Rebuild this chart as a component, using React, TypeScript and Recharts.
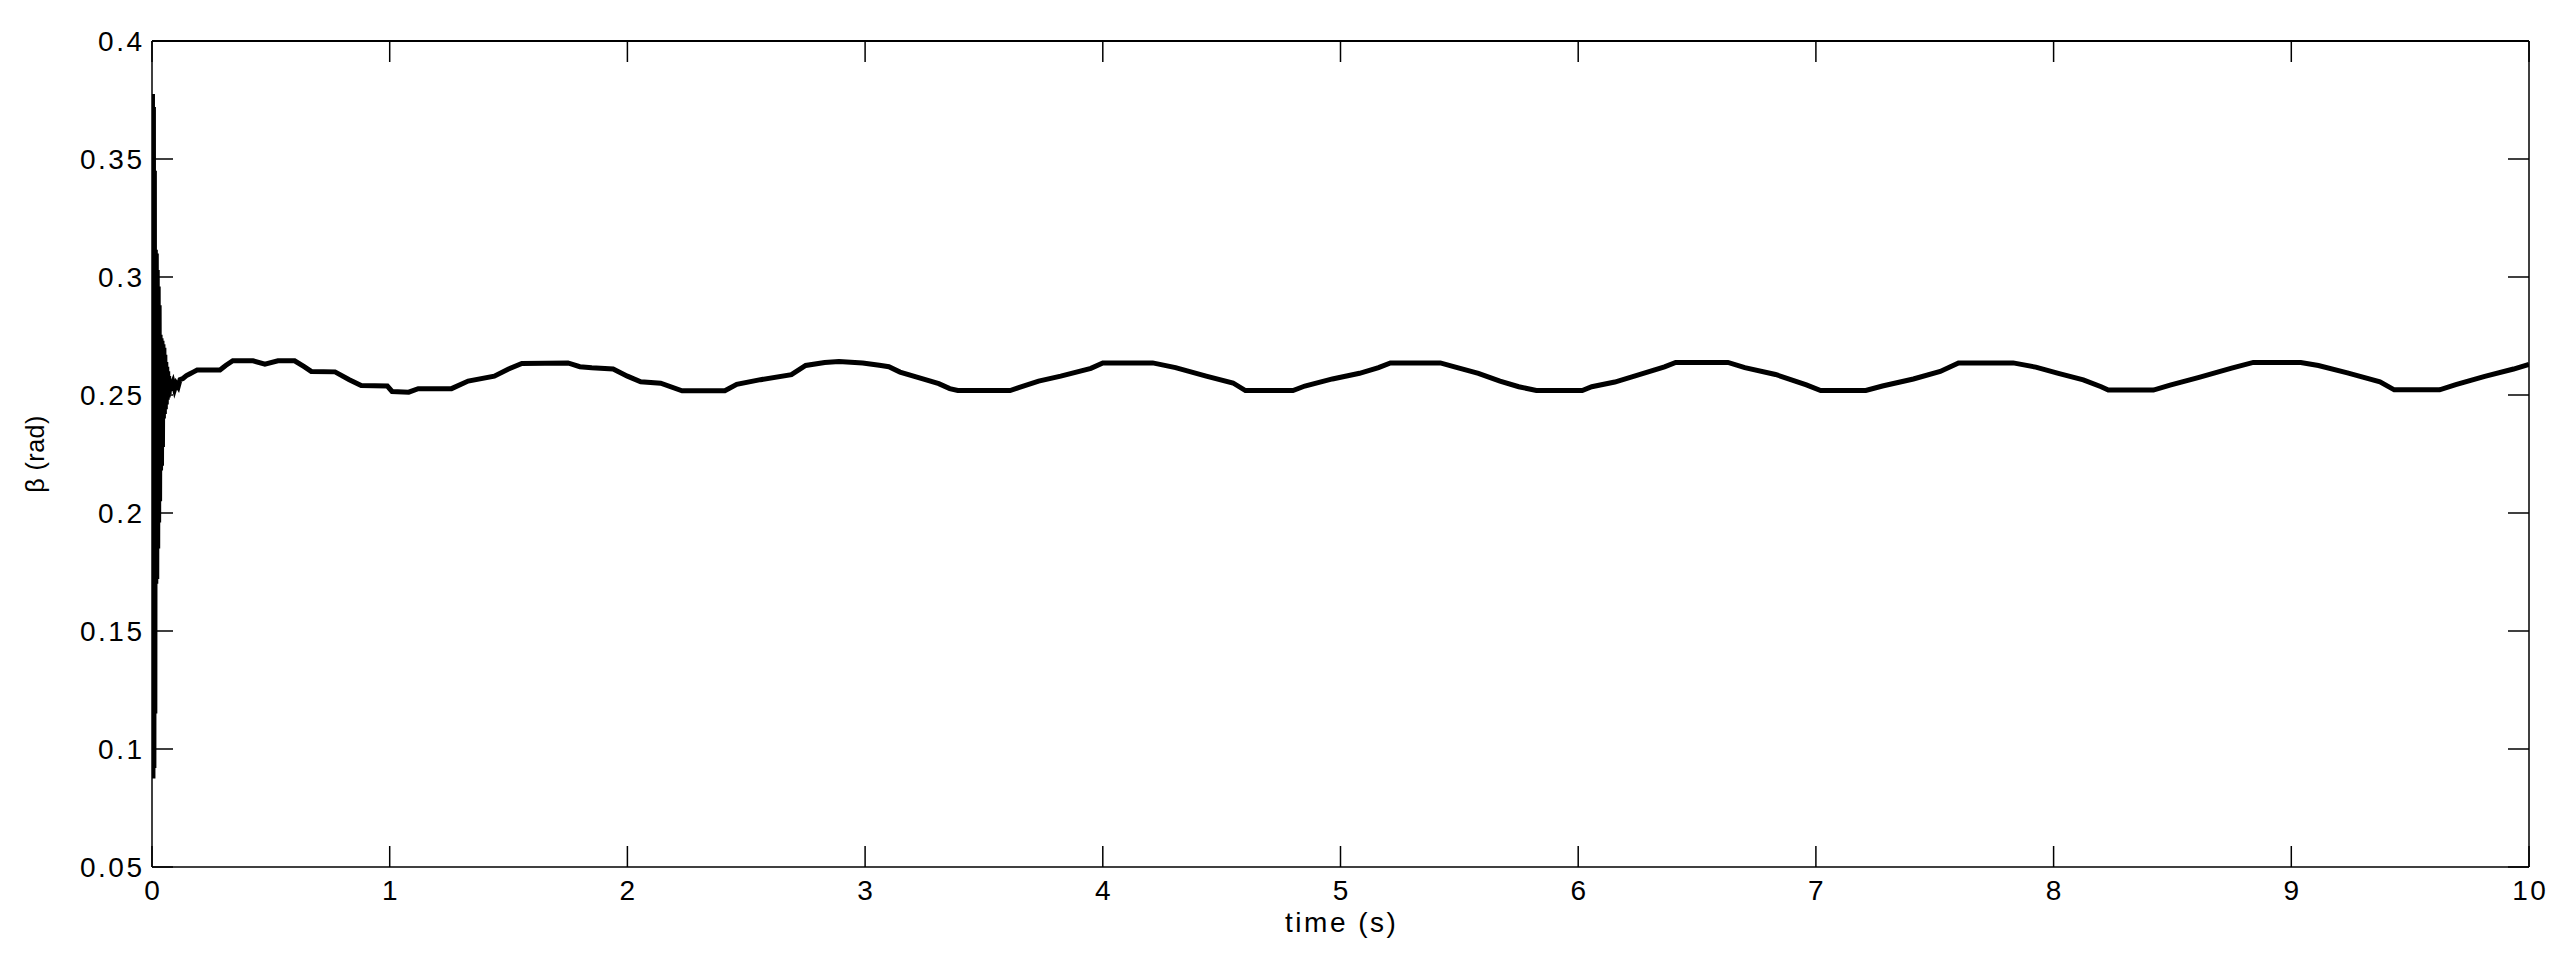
import React from 'react';
import { LineChart, Line, XAxis, YAxis, Label } from 'recharts';

const times: number[] = [
  0.000, 0.002, 0.004, 0.006, 0.008, 0.010, 0.012, 0.014, 0.016, 0.018,
  0.020, 0.022, 0.024, 0.026, 0.028, 0.030, 0.032, 0.034, 0.036, 0.038,
  0.040, 0.042, 0.044, 0.046, 0.048, 0.050, 0.052, 0.054, 0.056, 0.058,
  0.060, 0.062, 0.064, 0.066, 0.068, 0.070, 0.072, 0.075, 0.080, 0.088,
  0.095, 0.102, 0.110, 0.118, 0.130, 0.145, 0.160, 0.175, 0.190, 0.286,
  0.310, 0.340, 0.425, 0.475, 0.530, 0.600, 0.640, 0.670, 0.770, 0.830,
  0.880, 0.990, 1.010, 1.080, 1.120, 1.260, 1.330, 1.440, 1.500, 1.556,
  1.750, 1.800, 1.850, 1.940, 2.000, 2.056, 2.140, 2.230, 2.410, 2.460,
  2.560, 2.690, 2.750, 2.830, 2.890, 2.990, 3.060, 3.100, 3.147, 3.243,
  3.310, 3.356, 3.390, 3.610, 3.646, 3.730, 3.823, 3.950, 4.000, 4.210,
  4.306, 4.435, 4.548, 4.600, 4.800, 4.850, 4.966, 5.080, 5.160, 5.210,
  5.420, 5.480, 5.580, 5.671, 5.750, 5.824, 6.017, 6.057, 6.154, 6.250,
  6.363, 6.410, 6.630, 6.701, 6.830, 6.960, 7.020, 7.210, 7.280, 7.410,
  7.523, 7.600, 7.830, 7.925, 8.020, 8.125, 8.200, 8.230, 8.420, 8.490,
  8.612, 8.749, 8.840, 9.040, 9.114, 9.236, 9.373, 9.433, 9.624, 9.692,
  9.814, 9.935, 10.000,
];

const beta: number[] = [
  0.2500, 0.3775, 0.0875, 0.3720, 0.0920, 0.3450, 0.1150, 0.3115, 0.1700, 0.3100,
  0.1720, 0.3030, 0.1850, 0.2960, 0.1960, 0.2880, 0.2050, 0.2755, 0.2180, 0.2740,
  0.2200, 0.2730, 0.2280, 0.2715, 0.2400, 0.2700, 0.2420, 0.2670, 0.2440, 0.2640,
  0.2460, 0.2620, 0.2480, 0.2600, 0.2490, 0.2580, 0.2505, 0.2565, 0.2535, 0.2555,
  0.2525, 0.2548, 0.2535, 0.2565, 0.2570, 0.2582, 0.2590, 0.2598, 0.2606, 0.2606,
  0.2625, 0.2645, 0.2645, 0.2631, 0.2645, 0.2645, 0.2620, 0.2600, 0.2598, 0.2565,
  0.2540, 0.2538, 0.2515, 0.2512, 0.2527, 0.2527, 0.2559, 0.2580, 0.2610, 0.2634,
  0.2636, 0.2620, 0.2615, 0.2610, 0.2580, 0.2556, 0.2550, 0.2518, 0.2518, 0.2545,
  0.2565, 0.2586, 0.2625, 0.2638, 0.2642, 0.2636, 0.2626, 0.2620, 0.2597, 0.2568,
  0.2548, 0.2527, 0.2519, 0.2519, 0.2531, 0.2559, 0.2580, 0.2613, 0.2636, 0.2636,
  0.2616, 0.2580, 0.2551, 0.2519, 0.2519, 0.2538, 0.2568, 0.2592, 0.2616, 0.2636,
  0.2636, 0.2619, 0.2592, 0.2559, 0.2535, 0.2519, 0.2519, 0.2535, 0.2555, 0.2584,
  0.2619, 0.2638, 0.2638, 0.2616, 0.2587, 0.2543, 0.2519, 0.2519, 0.2538, 0.2568,
  0.2600, 0.2636, 0.2636, 0.2618, 0.2592, 0.2564, 0.2535, 0.2521, 0.2521, 0.2542,
  0.2575, 0.2614, 0.2638, 0.2638, 0.2625, 0.2594, 0.2556, 0.2522, 0.2522, 0.2544,
  0.2579, 0.2610, 0.2630,
];

const xTicks: number[] = [0, 1, 2, 3, 4, 5, 6, 7, 8, 9, 10];
const yTicks: number[] = [0.05, 0.1, 0.15, 0.2, 0.25, 0.3, 0.35, 0.4];
const yTickLabels: string[] = ['0.05', '0.1', '0.15', '0.2', '0.25', '0.3', '0.35', '0.4'];
const xTitle = 'time (s)';
const yTitle = 'β (rad)';

const data = times.map((t, i) => ({ t, b: beta[i] }));

const CHART_W = 2550;
const CHART_H = 940;
const MARGIN = { top: 33, right: 29, left: 0, bottom: 11 };
const Y_AXIS_W = 144;
const X_AXIS_H = 70;
const PLOT_W = CHART_W - MARGIN.left - MARGIN.right - Y_AXIS_W;
const PLOT_H = CHART_H - MARGIN.top - MARGIN.bottom - X_AXIS_H;

const FONT = '"Liberation Sans", Arial, Helvetica, sans-serif';
const TICK_LEN = 21;
const TICK_FS = 28;
const LS = 2.5;

const BottomTick = (props: any) => {
  const { x, y, payload, index } = props;
  const top = y - PLOT_H;
  return (
    <g>
      {index === 0 && (
        <line x1={x} y1={top} x2={x + PLOT_W} y2={top} stroke="#000" strokeWidth={2} />
      )}
      <line x1={x} y1={y} x2={x} y2={y - TICK_LEN} stroke="#000" strokeWidth={1.5} />
      <line x1={x} y1={top} x2={x} y2={top + TICK_LEN} stroke="#000" strokeWidth={1.5} />
      <text
        x={x + LS / 2}
        y={y + 33}
        textAnchor="middle"
        fontFamily={FONT}
        fontSize={TICK_FS}
        letterSpacing={LS}
        fill="#000"
      >
        {payload.value}
      </text>
    </g>
  );
};

const LeftTick = (props: any) => {
  const { x, y, payload, index } = props;
  const label = yTickLabels[index] ?? String(payload.value);
  const right = x + PLOT_W;
  return (
    <g>
      {index === 0 && (
        <line x1={right} y1={y} x2={right} y2={y - PLOT_H} stroke="#000" strokeWidth={1.5} />
      )}
      <line x1={x} y1={y} x2={x + TICK_LEN} y2={y} stroke="#000" strokeWidth={1.5} />
      <line x1={right} y1={y} x2={right - TICK_LEN} y2={y} stroke="#000" strokeWidth={1.5} />
      <text
        x={x - 10 + LS}
        y={y + 10}
        textAnchor="end"
        fontFamily={FONT}
        fontSize={TICK_FS}
        letterSpacing={LS}
        fill="#000"
      >
        {label}
      </text>
    </g>
  );
};

const XTitle = (props: any) => {
  const vb = props.viewBox || {};
  const cx = vb.x + vb.width / 2;
  return (
    <text
      x={cx + LS / 2}
      y={vb.y + 65}
      textAnchor="middle"
      fontFamily={FONT}
      fontSize={TICK_FS}
      letterSpacing={LS}
      fill="#000"
    >
      {xTitle}
    </text>
  );
};

const YTitle = (props: any) => {
  const vb = props.viewBox || {};
  const cy = vb.y + vb.height / 2;
  const cx = 36;
  return (
    <text
      x={cx}
      y={cy}
      transform={`rotate(-90, ${cx}, ${cy})`}
      textAnchor="middle"
      fontFamily={FONT}
      fontSize={25}
      letterSpacing={0.5}
      fill="#000"
    >
      {yTitle}
    </text>
  );
};

export default function App() {
  return (
    <div style={{ width: CHART_W, height: CHART_H, background: '#fff' }}>
      <LineChart width={CHART_W} height={CHART_H} data={data} margin={MARGIN}>
        <XAxis
          dataKey="t"
          type="number"
          domain={[0, 10]}
          ticks={xTicks}
          orientation="bottom"
          height={X_AXIS_H}
          tickSize={0}
          tickMargin={0}
          tickLine={false}
          tick={<BottomTick />}
          axisLine={{ stroke: '#000', strokeWidth: 1.5 }}
          interval={0}
          allowDataOverflow
        >
          <Label content={<XTitle />} />
        </XAxis>
        <YAxis
          type="number"
          domain={[0.05, 0.4]}
          ticks={yTicks}
          orientation="left"
          width={Y_AXIS_W}
          tickSize={0}
          tickMargin={0}
          tickLine={false}
          tick={<LeftTick />}
          axisLine={{ stroke: '#000', strokeWidth: 1.5 }}
          interval={0}
          allowDataOverflow
        >
          <Label content={<YTitle />} />
        </YAxis>
        <Line
          type="linear"
          dataKey="b"
          stroke="#000"
          strokeWidth={5}
          dot={false}
          activeDot={false}
          isAnimationActive={false}
        />
      </LineChart>
    </div>
  );
}
